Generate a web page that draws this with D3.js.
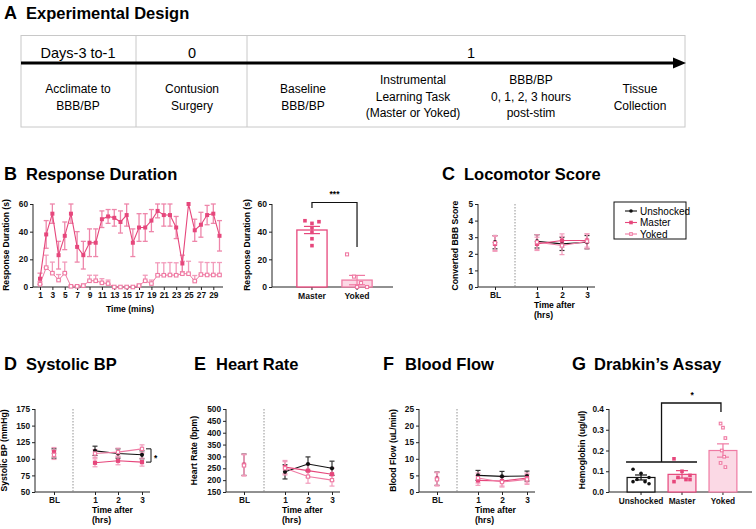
<!DOCTYPE html>
<html><head><meta charset="utf-8">
<script src="https://cdn.jsdelivr.net/npm/d3@7"></script>
<style>body{margin:0;background:#fff}svg{display:block}text{font-family:"Liberation Sans",Arial,sans-serif}</style>
</head><body><svg id="c" width="756" height="529"></svg>
<script>
// ---------- DATA ----------
const timelineHeaders = ["Days-3 to-1", "0", "1"];
const timelineSteps = [["Acclimate to","BBB/BP"],["Contusion","Surgery"],["Baseline","BBB/BP"],["Instrumental","Learning Task","(Master or Yoked)"],["BBB/BP","0, 1, 2, 3 hours","post-stim"],["Tissue","Collection"]];
const minutes = [1,2,3,4,5,6,7,8,9,10,11,12,13,14,15,16,17,18,19,20,21,22,23,24,25,26,27,28,29,30];
const minuteTicks = [1,3,5,7,9,11,13,15,17,19,21,23,25,27,29];
const masterDur = [6,38,53,23,37,53,29,23,32,32,49,51,50,47,52,32,43,43,48,55,52,52,43,17,60,41,45,52,53,37];
const masterDurErr = [4,10,7,10,10,7,11,10,10,10,6,5,6,8,8,10,10,10,8,5,8,8,8,6,0,8,9,7,7,11];
const yokedDur = [2,14,10,5,10,0.5,0.5,1,4.5,4.5,3,2.5,0,0,0,0,1,4.5,2.5,8.5,8.5,8.7,8.5,9.6,9.6,4.3,9,8.7,8.7,8.7];
const yokedDurErr = [2,9,8,4,8,0.5,0.5,1,4,4,3,2.5,0,0,0,0,1,4,2.5,9,9,9,9,9,9,4,9,9,9,9];
const durGroups = ["Master","Yoked"];
const durMeans = [41.2, 5];
const durSem = [2.6, 3.4];
const durMasterPts = [47.9,46,47.2,42.9,39.5,34.9,29.9];
const durYokedPts = [23.6,7.5,2.9,0,0.5,0,0];
const groups = ["Unshocked","Master","Yoked"];
const timeCats = ["BL","1","2","3"];
const bbb = {Unshocked:[2.7,2.75,2.6,2.7], Master:[2.6,2.6,2.8,2.8], Yoked:[2.65,2.7,2.5,2.75]};
const bbbErr = {Unshocked:[0.4,0.4,0.4,0.4], Master:[0.45,0.4,0.4,0.4], Yoked:[0.45,0.45,0.55,0.45]};
const sbp = {Unshocked:[108,112,108,106], Master:[110,94,97,95], Yoked:[106,108,110,115]};
const sbpErr = {Unshocked:[7,7,7,6], Master:[7,6,6,6], Yoked:[7,6,6,6]};
const hr = {Unshocked:[265,235,268,250], Master:[265,255,240,225], Yoked:[262,250,215,200]};
const hrErr = {Unshocked:[45,30,30,30], Master:[45,28,28,28], Yoked:[45,28,28,25]};
const flow = {Unshocked:[4,5,4.7,4.8], Master:[4,3.5,3.3,4.2], Yoked:[3.8,4.2,3,3.8]};
const flowErr = {Unshocked:[2,1.5,1.5,1.5], Master:[2,1.5,1.5,1.5], Yoked:[2,1.5,1.5,1.5]};
const hbMeans = [0.07, 0.085, 0.20];
const hbSem = [0.012, 0.018, 0.032];
const hbPts = {Unshocked:[0.11,0.09,0.07,0.06,0.05,0.05,0.04], Master:[0.16,0.10,0.08,0.07,0.06,0.05,0.06], Yoked:[0.33,0.31,0.26,0.20,0.17,0.14,0.12]};

// ---------- STYLE ----------
const PINK = "#e6477c", PINK2 = "#ef7aa3", PINKERR = "#f29bbb", PINKFILL = "#fbd9e5", AX = "#222";
const TICK = 8.3, ATITLE = 8.6;
const svg = d3.select("#c");

function title(x, y, letter, t) {
  svg.append("text").attr("x", x).attr("y", y).attr("font-size", 18).attr("font-weight", "bold").text(letter);
  svg.append("text").attr("x", x + 22).attr("y", y).attr("font-size", 16.5).attr("font-weight", "bold").text(t);
}
function styleAxis(g) {
  g.selectAll("path,line").attr("stroke", AX).attr("stroke-width", 1);
  g.selectAll("text").attr("font-size", TICK).attr("font-weight", "bold").attr("fill", "#111").attr("font-family", "Liberation Sans, Arial");
}
function ytitle(x, yc, t) {
  svg.append("text").attr("transform", `translate(${x},${yc}) rotate(-90)`).attr("text-anchor", "middle")
    .attr("font-size", ATITLE).attr("font-weight", "bold").text(t);
}
function marker(g, type, x, y, s) {
  if (type === "Unshocked") g.append("circle").attr("cx", x).attr("cy", y).attr("r", s * 0.5).attr("fill", "#111");
  else if (type === "Master") g.append("rect").attr("x", x - s / 2).attr("y", y - s / 2).attr("width", s).attr("height", s).attr("fill", PINK);
  else g.append("rect").attr("x", x - s / 2 + 0.5).attr("y", y - s / 2 + 0.5).attr("width", s - 1).attr("height", s - 1).attr("fill", "#fff").attr("stroke", PINK2).attr("stroke-width", 1.1);
}
function errbar(g, x, y0, y1, color, cap, sw) {
  sw = sw || 1.2;
  g.append("line").attr("x1", x).attr("x2", x).attr("y1", y0).attr("y2", y1).attr("stroke", color).attr("stroke-width", sw);
  [y0, y1].forEach(yy => g.append("line").attr("x1", x - cap).attr("x2", x + cap).attr("y1", yy).attr("y2", yy).attr("stroke", color).attr("stroke-width", sw));
}

// ---------- A ----------
title(4, 19, "A", "Experimental Design");
const A = svg.append("g");
A.append("rect").attr("x", 21).attr("y", 35.5).attr("width", 664).attr("height", 91.5).attr("fill", "none").attr("stroke", "#c8c8c8");
[136, 247].forEach(x => A.append("line").attr("x1", x).attr("x2", x).attr("y1", 35.5).attr("y2", 127).attr("stroke", "#c8c8c8"));
const hdrX = d3.scaleOrdinal().domain(timelineHeaders).range([78, 192, 471]);
timelineHeaders.forEach(h => A.append("text").attr("x", hdrX(h)).attr("y", 58).attr("text-anchor", "middle").attr("font-size", 14.5).attr("font-family", "Open Sans, sans-serif").text(h));
A.append("line").attr("x1", 21).attr("x2", 674).attr("y1", 63).attr("y2", 63).attr("stroke", "#000").attr("stroke-width", 3.2);
A.append("path").attr("d", "M673,57.5 L686,63 L673,68.5 Z").attr("fill", "#000");
const stepX = d3.scaleOrdinal().domain(d3.range(timelineSteps.length)).range([78, 192, 303, 413, 531, 640]);
timelineSteps.forEach((lines, i) => {
  const n = lines.length, y0 = n === 3 ? 84 : 93;
  lines.forEach((l, j) => A.append("text").attr("x", stepX(i)).attr("y", y0 + j * 16.5).attr("text-anchor", "middle").attr("font-size", 12).attr("font-family", "Open Sans, sans-serif").text(l));
});

// ---------- B line ----------
title(4, 180, "B", "Response Duration");
const xB = d3.scaleLinear().domain([1, 30]).range([40, 219.5]);
const yB = d3.scaleLinear().domain([0, 60]).range([287, 204]);
const gB = svg.append("g");
styleAxis(gB.append("g").attr("transform", "translate(33,0)").call(d3.axisLeft(yB).tickValues([0, 20, 40, 60]).tickSize(3).tickPadding(2)));
styleAxis(gB.append("g").attr("transform", "translate(0,287)").call(d3.axisBottom(xB).tickValues(minuteTicks).tickSize(3).tickPadding(2).tickFormat(d3.format("d"))));
gB.selectAll(".domain").remove();
gB.append("line").attr("x1", 33).attr("x2", 33).attr("y1", 204).attr("y2", 287).attr("stroke", AX);
gB.append("line").attr("x1", 33).attr("x2", 223).attr("y1", 287).attr("y2", 287).attr("stroke", AX);
ytitle(9, 245, "Response Duration (s)");
svg.append("text").attr("x", 130).attr("y", 312).attr("text-anchor", "middle").attr("font-size", ATITLE).attr("font-weight", "bold").text("Time (mins)");
const eb = gB.append("g");
minutes.forEach((m, i) => {
  if (yokedDurErr[i] > 0) errbar(eb, xB(m), yB(yokedDur[i] + yokedDurErr[i]), yB(yokedDur[i]), PINKERR, 2.5, 1.3);
  if (masterDurErr[i] > 0) errbar(eb, xB(m), yB(Math.min(60, masterDur[i] + masterDurErr[i])), yB(masterDur[i] - masterDurErr[i]), "#ee86aa", 2.5, 1.3);
});
const line = d3.line().x((d, i) => xB(minutes[i])).y(d => yB(d));
gB.append("path").datum(yokedDur).attr("d", line).attr("fill", "none").attr("stroke", PINK2).attr("stroke-width", 1);
gB.append("path").datum(masterDur).attr("d", line).attr("fill", "none").attr("stroke", PINK).attr("stroke-width", 1.1);
minutes.forEach((m, i) => { marker(gB, "Yoked", xB(m), yB(yokedDur[i]), 4.5); marker(gB, "Master", xB(m), yB(masterDur[i]), 4); });

// ---------- B bars ----------
const xBB = d3.scaleBand().domain(durGroups).range([282, 387]).padding(0.33);
const gBB = svg.append("g");
styleAxis(gBB.append("g").attr("transform", "translate(272,0)").call(d3.axisLeft(yB).tickValues([0, 20, 40, 60]).tickSize(3).tickPadding(2)));
styleAxis(gBB.append("g").attr("transform", "translate(0,287)").call(d3.axisBottom(xBB).tickSize(3).tickPadding(3)));
gBB.selectAll(".domain").remove();
gBB.selectAll("text").attr("font-size", 8.6);
gBB.append("line").attr("x1", 272).attr("x2", 272).attr("y1", 204).attr("y2", 287).attr("stroke", AX);
gBB.append("line").attr("x1", 272).attr("x2", 393).attr("y1", 287).attr("y2", 287).attr("stroke", AX);
ytitle(250, 245, "Response Duration (s)");
durGroups.forEach((g, i) => {
  const x0 = xBB(g), w = xBB.bandwidth(), cx = x0 + w / 2;
  gBB.append("rect").attr("x", x0).attr("y", yB(durMeans[i])).attr("width", w).attr("height", yB(0) - yB(durMeans[i]))
    .attr("fill", i === 0 ? "#fff" : PINKFILL).attr("stroke", i === 0 ? PINK : PINK2).attr("stroke-width", 1.3);
  errbar(gBB, cx, yB(durMeans[i] + durSem[i]), yB(durMeans[i] - durSem[i]), i === 0 ? PINK : PINK2, 8);
});
const mOff = [-7, 0, 7, 0, 0, 0, 0], yOff = [-10, -3, 4, 10, 0, 0, 0];
durMasterPts.forEach((v, i) => marker(gBB, "Master", xBB("Master") + xBB.bandwidth() / 2 + mOff[i], yB(v), 3.6));
durYokedPts.forEach((v, i) => marker(gBB, "Yoked", xBB("Yoked") + xBB.bandwidth() / 2 + yOff[i], yB(v), 4));
{
  const c1 = xBB("Master") + xBB.bandwidth() / 2, c2 = xBB("Yoked") + xBB.bandwidth() / 2;
  gBB.append("path").attr("d", `M${c1},208 V202.5 H${c2} V247`).attr("fill", "none").attr("stroke", "#111").attr("stroke-width", 1.2);
  gBB.append("text").attr("x", (c1 + c2) / 2).attr("y", 197).attr("text-anchor", "middle").attr("font-size", 8.5).attr("font-weight", "bold").text("***");
}

// ---------- small time panels ----------
function timePanel(cfg) {
  const g = svg.append("g");
  const y = d3.scaleLinear().domain(cfg.domain).range([cfg.bottom, cfg.top]);
  const x = d3.scaleOrdinal().domain(timeCats).range(cfg.xs);
  styleAxis(g.append("g").attr("transform", `translate(${cfg.ax},0)`).call(d3.axisLeft(y).tickValues(cfg.ticks).tickSize(3).tickPadding(2).tickFormat(cfg.fmt || d3.format("d"))));
  styleAxis(g.append("g").attr("transform", `translate(0,${cfg.bottom})`).call(d3.axisBottom(x).tickSize(3).tickPadding(2)));
  g.selectAll(".domain").remove();
  g.append("line").attr("x1", cfg.ax).attr("x2", cfg.ax).attr("y1", cfg.top).attr("y2", cfg.bottom).attr("stroke", AX);
  g.append("line").attr("x1", cfg.ax).attr("x2", cfg.xs[3] + 8).attr("y1", cfg.bottom).attr("y2", cfg.bottom).attr("stroke", AX);
  g.append("line").attr("x1", cfg.dot).attr("x2", cfg.dot).attr("y1", cfg.top).attr("y2", cfg.bottom).attr("stroke", "#777").attr("stroke-width", 0.8).attr("stroke-dasharray", "1.5,1.5");
  g.append("text").attr("x", cfg.xs[1] - 3).attr("y", cfg.bottom + 21).attr("font-size", ATITLE).attr("font-weight", "bold").text("Time after");
  g.append("text").attr("x", cfg.xs[1] - 3).attr("y", cfg.bottom + 30.5).attr("font-size", ATITLE).attr("font-weight", "bold").text("(hrs)");
  ytitle(cfg.ytx, (cfg.top + cfg.bottom) / 2, cfg.ytitle);
  const colors = {Unshocked: "#111", Master: PINK, Yoked: PINK2};
  const ecolors = {Unshocked: "#333", Master: PINKERR, Yoked: PINKERR};
  groups.forEach(gr => {
    const v = cfg.data[gr], e = cfg.err[gr];
    timeCats.forEach((t, i) => errbar(g, x(t), y(v[i] + e[i]), y(v[i] - e[i]), ecolors[gr], 2.5));
  });
  groups.forEach(gr => {
    const v = cfg.data[gr];
    g.append("path").datum(v.slice(1)).attr("d", d3.line().x((d, i) => x(timeCats[i + 1])).y(d => y(d)))
      .attr("fill", "none").attr("stroke", colors[gr]).attr("stroke-width", 1.1);
  });
  groups.forEach(gr => {
    const v = cfg.data[gr];
    timeCats.forEach((t, i) => marker(g, gr, x(t), y(v[i]), 4.2));
  });
  return {g, x, y};
}

title(442, 180, "C", "Locomotor Score");
timePanel({ax: 478, top: 204, bottom: 287, domain: [0, 5], ticks: [0, 1, 2, 3, 4, 5], xs: [495, 537, 562, 587], dot: 515, ytx: 458, ytitle: "Converted BBB Score", data: bbb, err: bbbErr});
// legend
{
  const L = svg.append("g");
  L.append("rect").attr("x", 614).attr("y", 202).attr("width", 72).attr("height", 37).attr("fill", "#fff").attr("stroke", "#111").attr("stroke-width", 1);
  const cols = {Unshocked: "#111", Master: PINK, Yoked: PINK2};
  groups.forEach((gr, i) => {
    const yy = 211 + i * 11.5;
    L.append("line").attr("x1", 625).attr("x2", 637).attr("y1", yy).attr("y2", yy).attr("stroke", cols[gr]).attr("stroke-width", 1.1);
    marker(L, gr, 631, yy, 3.6);
    L.append("text").attr("x", 640).attr("y", yy + 3.5).attr("font-size", 10).text(gr);
  });
}

title(4, 370, "D", "Systolic BP");
const pD = timePanel({ax: 35, top: 409, bottom: 492, domain: [50, 175], ticks: [50, 75, 100, 125, 150, 175], xs: [54, 95, 118, 142], dot: 73, ytx: 7, ytitle: "Systolic BP (mmHg)", data: sbp, err: sbpErr});
pD.g.append("path").attr("d", `M146,${pD.y(115)} H151 V${pD.y(95)} H146`).attr("fill", "none").attr("stroke", "#111").attr("stroke-width", 1);
pD.g.append("text").attr("x", 154).attr("y", pD.y(103) + 4).attr("font-size", 8.5).attr("font-weight", "bold").text("*");

title(194, 370, "E", "Heart Rate");
timePanel({ax: 226, top: 409, bottom: 492, domain: [150, 500], ticks: [150, 200, 250, 300, 350, 400, 450, 500], xs: [244, 285, 308, 332], dot: 264, ytx: 197, ytitle: "Heart Rate (bpm)", data: hr, err: hrErr});

title(383, 370, "F", "Blood Flow");
timePanel({ax: 419, top: 409, bottom: 492, domain: [0, 25], ticks: [0, 5, 10, 15, 20, 25], xs: [437, 478, 502, 527], dot: 457, ytx: 396, ytitle: "Blood Flow (uL/min)", data: flow, err: flowErr});

// ---------- G ----------
title(572, 370, "G", "Drabkin\u2019s Assay");
{
  const g = svg.append("g");
  const y = d3.scaleLinear().domain([0, 0.4]).range([492, 409]);
  const x = d3.scaleBand().domain(groups).range([614, 750]).padding(0.32);
  styleAxis(g.append("g").attr("transform", "translate(609,0)").call(d3.axisLeft(y).tickValues([0, 0.1, 0.2, 0.3, 0.4]).tickSize(3).tickPadding(2).tickFormat(d3.format(".1f"))));
  styleAxis(g.append("g").attr("transform", "translate(0,492)").call(d3.axisBottom(x).tickSize(3).tickPadding(3)));
  g.selectAll(".domain").remove();
  g.append("line").attr("x1", 609).attr("x2", 609).attr("y1", 409).attr("y2", 492).attr("stroke", AX);
  g.append("line").attr("x1", 609).attr("x2", 752).attr("y1", 492).attr("y2", 492).attr("stroke", AX);
  ytitle(585, 450, "Hemoglobin (ug/ul)");
  const stroke = [ "#111", PINK, PINK2 ], fill = ["#fff", PINKFILL, PINKFILL];
  groups.forEach((gr, i) => {
    const x0 = x(gr), w = x.bandwidth(), cx = x0 + w / 2;
    g.append("rect").attr("x", x0).attr("y", y(hbMeans[i])).attr("width", w).attr("height", y(0) - y(hbMeans[i])).attr("fill", fill[i]).attr("stroke", stroke[i]).attr("stroke-width", 1.2);
    errbar(g, cx, y(hbMeans[i] + hbSem[i]), y(hbMeans[i] - hbSem[i]), stroke[i], 6);
    const offs = [-8, 0, 8, -4, 4, -8, 8];
    hbPts[gr].forEach((v, j) => marker(g, gr, cx + offs[j] * (gr === "Yoked" ? 0.3 : 1), y(v), 3.6));
  });
  const c0 = x("Unshocked") + x.bandwidth() / 2, c1 = x("Master") + x.bandwidth() / 2, c2 = x("Yoked") + x.bandwidth() / 2;
  const mid = (c0 + c1) / 2;
  g.append("path").attr("d", `M${c0 - 15},462 H${c1 + 15} M${mid},462 V403 H${c2 - 2} V412`).attr("fill", "none").attr("stroke", "#111").attr("stroke-width", 1.3);
  g.append("text").attr("x", (mid + c2) / 2).attr("y", 398).attr("text-anchor", "middle").attr("font-size", 8.5).attr("font-weight", "bold").text("*");
}
</script></body></html>
